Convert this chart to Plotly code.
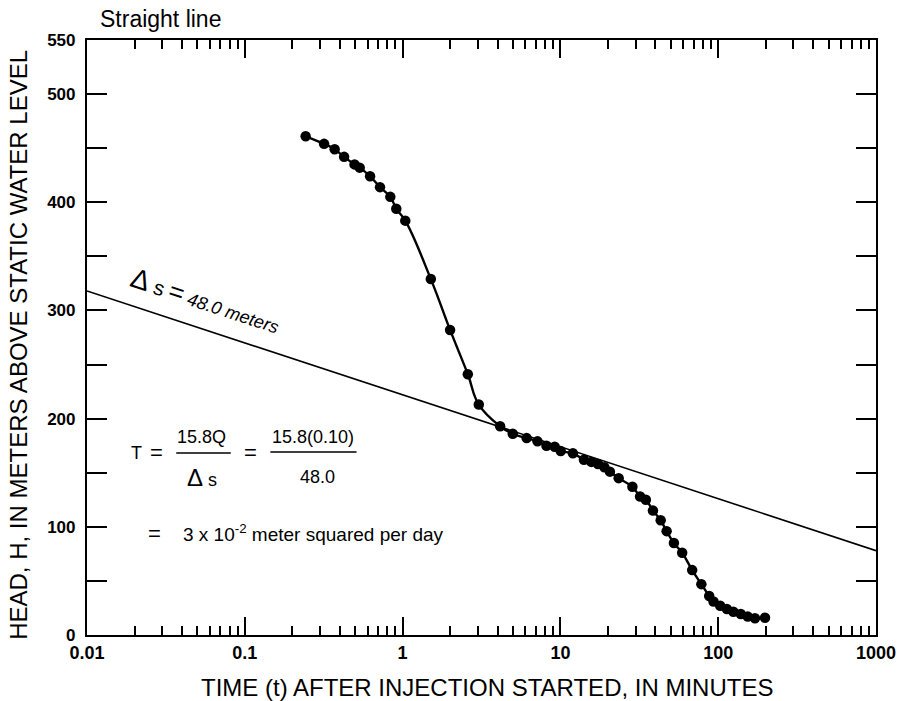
import plotly.graph_objects as go

# Injection test: head above static water level vs. time since injection started
time_min = [0.243, 0.318, 0.371, 0.426, 0.496, 0.535, 0.622, 0.719, 0.836, 0.912,
            1.04, 1.51, 2.0, 2.59, 3.04, 4.15, 4.99, 6.11, 7.16, 8.16,
            9.2, 10.05, 12.0, 14.1, 15.7, 17.3, 19.0, 20.6, 23.4, 28.6,
            32.0, 34.8, 38.6, 43.2, 47.1, 52.4, 59.1, 68.4, 78.2, 87.7,
            93.4, 103, 113.5, 124.8, 139, 154, 171, 198]
head_m = [461, 454, 449, 442, 435, 432, 424, 414, 405, 394,
          383, 329, 282, 241, 213, 193, 186, 182, 179, 175,
          174, 170, 168, 162, 160, 158, 155, 151, 145, 137,
          128, 125, 115, 106, 96, 85, 76, 60, 47, 36,
          31, 27, 24, 21.5, 19.4, 17, 15.5, 16]

# Fitted straight line: slope of 48.0 m per log cycle of time
line_time = [0.01, 1000]
line_head = [318, 78]

x_tick_vals = [0.01, 0.1, 1, 10, 100, 1000]
x_tick_text = ["0.01", "0.1", "1", "10", "100", "1000"]
y_tick_vals = list(range(0, 551, 50))
y_tick_text = ["0", "", "100", "", "200", "", "300", "", "400", "", "500", "550"]

FONT = "Liberation Sans, Arial, sans-serif"

fig = go.Figure()

fig.add_trace(go.Scatter(
    x=line_time, y=line_head, mode="lines",
    line=dict(color="black", width=1.6), showlegend=False, hoverinfo="skip"))

fig.add_trace(go.Scatter(
    x=time_min, y=head_m, mode="lines+markers",
    line=dict(color="black", width=2.4, shape="spline", smoothing=1.2),
    marker=dict(color="black", size=10.5),
    showlegend=False))

fig.update_xaxes(
    type="log", range=[-2, 3],
    tickvals=x_tick_vals, ticktext=x_tick_text,
    ticks="inside", ticklen=18, tickwidth=1.6, tickcolor="black",
    minor=dict(ticks="inside", ticklen=9, tickwidth=1.6, tickcolor="black",
               dtick="D1", showgrid=False),
    showline=True, linewidth=2.2, linecolor="black", mirror="ticks",
    showgrid=False, zeroline=False,
    tickfont=dict(family=FONT, size=18, color="black", weight="bold"),
)
fig.update_yaxes(
    range=[0, 550],
    tickvals=y_tick_vals, ticktext=y_tick_text,
    ticks="inside", ticklen=20, tickwidth=1.6, tickcolor="black",
    showline=True, linewidth=2.2, linecolor="black", mirror="ticks",
    showgrid=False, zeroline=False,
    tickfont=dict(family=FONT, size=17, color="black", weight="bold"),
    ticklabelstandoff=6,
)

ann_font = dict(family=FONT, size=18, color="black")
annotations = [
    # titles
    dict(text="Straight line", x=0.0138, y=1.036, xanchor="left",
         font=dict(family=FONT, size=23, color="black")),
    dict(text="TIME (t) AFTER INJECTION STARTED, IN MINUTES", x=0.507, y=-0.0874,
         font=dict(family=FONT, size=24, color="black")),
    dict(text="HEAD, H, IN METERS ABOVE STATIC WATER LEVEL", x=-0.0867, y=0.487,
         textangle=-90, font=dict(family=FONT, size=24, color="black")),
    # slope label along the fitted line
    dict(text="<span style='font-size:28px'>Δ</span><span style='font-size:21px'> s</span>"
              " <span style='font-size:26px'>=</span> <i>48.0 meters</i>",
         x=0.1497, y=0.563, textangle=18,
         font=dict(family=FONT, size=18, color="black")),
    # transmissivity formula
    dict(text="T", x=0.0628, y=0.306, font=ann_font),
    dict(text="=", x=0.088, y=0.306, font=dict(family=FONT, size=22, color="black")),
    dict(text="15.8Q", x=0.1457, y=0.333, font=ann_font),
    dict(text="<span style='font-size:24px'>Δ</span> s", x=0.1457, y=0.2655, font=ann_font),
    dict(text="=", x=0.2073, y=0.306, font=dict(family=FONT, size=22, color="black")),
    dict(text="15.8(0.10)", x=0.2864, y=0.333, font=ann_font),
    dict(text="48.0", x=0.2927, y=0.2655, font=ann_font),
    dict(text="=", x=0.0854, y=0.1714, font=dict(family=FONT, size=22, color="black")),
    dict(text="3 x 10<sup>-2</sup> meter squared per day", x=0.1193, y=0.1714,
         xanchor="left", font=dict(family=FONT, size=19, color="black")),
]
for a in annotations:
    a.setdefault("xref", "paper")
    a.setdefault("yref", "paper")
    a.setdefault("xanchor", "center")
    a.setdefault("yanchor", "middle")
    a.setdefault("showarrow", False)
    fig.add_annotation(**a)

# fraction bars
for x0, x1, y in [(0.1131, 0.1822, 0.306), (0.2324, 0.3417, 0.3076)]:
    fig.add_shape(type="line", xref="paper", yref="paper",
                  x0=x0, x1=x1, y0=y, y1=y, line=dict(color="black", width=1.5))

fig.update_layout(
    width=908, height=701,
    margin=dict(l=87, r=25, t=40, b=66),
    paper_bgcolor="white", plot_bgcolor="white",
    font=dict(family=FONT, color="black"),
)

fig.write_html("out.html")
